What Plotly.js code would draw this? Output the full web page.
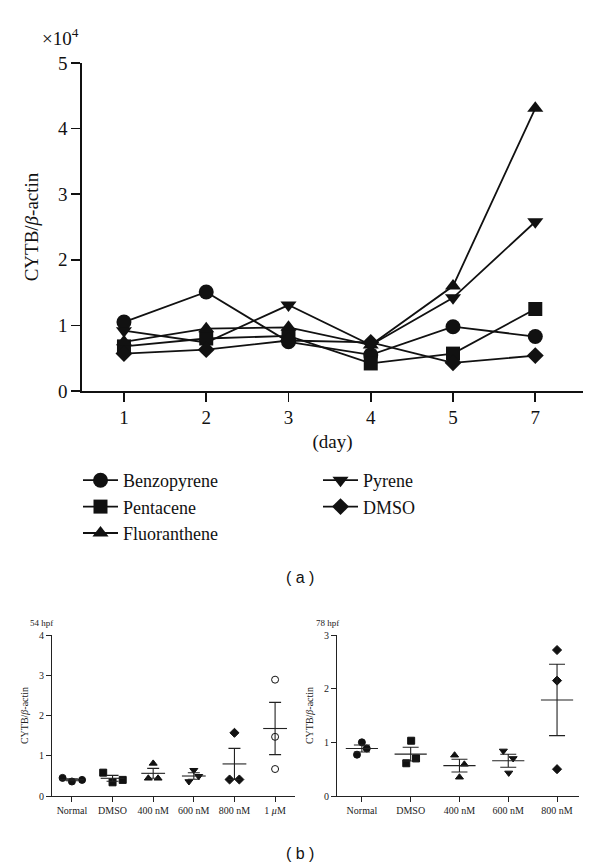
<!DOCTYPE html>
<html>
<head>
<meta charset="utf-8">
<script src="https://cdn.plot.ly/plotly-3.0.1.min.js"></script>
<style>
  body { margin: 0; background: #fff; }
  #plotDiv { width: 600px; height: 866px; }
</style>
</head>
<body>
<div id="plotDiv"></div>
<script>
// ---- panel (a): CYTB/beta-actin (x10^4) by day ----
var days = ['1', '2', '3', '4', '5', '7'];
var benzopyrene  = [1.05, 1.51, 0.75, 0.55, 0.98, 0.83];
var pentacene    = [0.68, 0.80, 0.84, 0.42, 0.57, 1.25];
var fluoranthene = [0.75, 0.95, 0.97, 0.70, 1.60, 4.31];
var pyrene       = [0.92, 0.74, 1.31, 0.70, 1.42, 2.58];
var dmso         = [0.57, 0.63, 0.77, 0.74, 0.43, 0.54];

// ---- panel (b): individual replicates ----
var groups54 = ['Normal', 'DMSO', '400 nM', '600 nM', '800 nM', '1 <i>μ</i>M'];
var vals54 = [
  [0.45, 0.36, 0.40],
  [0.58, 0.34, 0.40],
  [0.44, 0.81, 0.44],
  [0.36, 0.64, 0.49],
  [0.41, 1.57, 0.41],
  [2.89, 1.47, 0.67]
];
var groups78 = ['Normal', 'DMSO', '400 nM', '600 nM', '800 nM'];
var vals78 = [
  [0.77, 1.00, 0.885],
  [0.61, 1.03, 0.70],
  [0.76, 0.35, 0.59],
  [0.84, 0.43, 0.70],
  [2.72, 2.15, 0.50]
];

// horizontal scatter offsets of the replicate dots (layout only)
var jit54 = [[-0.23, 0, 0.25], [-0.23, 0, 0.25], [-0.12, 0, 0.12], [-0.12, 0, 0.12], [-0.12, 0, 0.12], [0, 0, 0]];
var jit78 = [[-0.1, 0, 0.1], [-0.09, 0.01, 0.11], [-0.1, 0, 0.1], [-0.1, 0.01, 0.1], [0, 0, 0]];
var symbols = ['circle', 'square', 'triangle-up', 'triangle-down', 'diamond', 'circle-open'];

var serif = 'Liberation Serif, Times New Roman, serif';
var black = '#111';

function px(x) { return x / 600; }
function py(y) { return 1 - y / 866; }

var data = [];

// top line series
var series = [
  {name: 'Benzopyrene', y: benzopyrene, sym: 'circle', size: 15, leg: 'legend'},
  {name: 'Pentacene', y: pentacene, sym: 'square', size: 14, leg: 'legend'},
  {name: 'Fluoranthene', y: fluoranthene, sym: 'triangle-up', size: 14, leg: 'legend'},
  {name: 'Pyrene', y: pyrene, sym: 'triangle-down', size: 14, leg: 'legend2'},
  {name: 'DMSO', y: dmso, sym: 'diamond', size: 13, leg: 'legend2'}
];
series.forEach(function(s) {
  data.push({
    type: 'scatter', mode: 'lines+markers',
    x: days, y: s.y, name: s.name,
    xaxis: 'x', yaxis: 'y', legend: s.leg,
    line: {color: black, width: 1.8},
    marker: {symbol: s.sym, size: s.size, color: black}
  });
});

function mean(a) { return a.reduce(function(p, c) { return p + c; }, 0) / a.length; }
function sem(a) {
  var m = mean(a);
  var v = a.reduce(function(p, c) { return p + (c - m) * (c - m); }, 0) / (a.length - 1);
  return Math.sqrt(v / a.length);
}

function addPanel(vals, jit, xa, ya, msize, meanSize, capW) {
  vals.forEach(function(g, i) {
    var sym = symbols[i];
    data.push({
      type: 'scatter', mode: 'markers', showlegend: false,
      x: g.map(function(v, j) { return i + jit[i][j]; }), y: g,
      xaxis: xa, yaxis: ya,
      marker: {symbol: sym, size: msize, color: black, line: {color: black, width: 1}}
    });
  });
  data.push({
    type: 'scatter', mode: 'markers', showlegend: false,
    x: vals.map(function(g, i) { return i; }),
    y: vals.map(mean),
    xaxis: xa, yaxis: ya,
    marker: {symbol: 'line-ew', size: meanSize, color: black, line: {color: '#222', width: 1.1}},
    error_y: {type: 'data', array: vals.map(sem), width: capW, thickness: 1.1, color: '#222'}
  });
}
addPanel(vals54, jit54, 'x2', 'y2', 7, 17, 6);
addPanel(vals78, jit78, 'x3', 'y3', 7, 23, 8);

var smallAxis = {
  showline: true, linecolor: '#222', linewidth: 1,
  ticks: 'outside', ticklen: 5, tickwidth: 1, tickcolor: '#222',
  showgrid: false, zeroline: false,
  tickfont: {family: serif, size: 10, color: '#222'}
};

var layout = {
  width: 600, height: 866,
  margin: {l: 0, r: 0, t: 0, b: 0},
  paper_bgcolor: '#fff', plot_bgcolor: '#fff',
  font: {family: serif, color: black},
  xaxis: {
    domain: [px(82), px(583)], anchor: 'y',
    type: 'category', range: [-0.51, 5.58],
    showline: true, linecolor: black, linewidth: 1.6,
    ticks: 'outside', ticklen: 9, tickwidth: 1.6, tickcolor: black,
    showgrid: false, zeroline: false,
    tickfont: {family: serif, size: 19, color: black},
    title: {text: '(day)', font: {family: serif, size: 19, color: black}, standoff: 7}
  },
  yaxis: {
    domain: [py(391), py(63)], anchor: 'x',
    range: [0, 5], dtick: 1,
    showline: true, linecolor: black, linewidth: 1.6,
    ticks: 'outside', ticklen: 9, tickwidth: 1.6, tickcolor: black,
    showgrid: false, zeroline: false,
    tickfont: {family: serif, size: 19, color: black},
    title: {text: 'CYTB/<i>β</i>-actin', font: {family: serif, size: 19, color: black}, standoff: 14}
  },
  xaxis2: Object.assign({}, smallAxis, {
    domain: [px(52), px(295)], anchor: 'y2', range: [-0.49, 5.49],
    tickvals: [0, 1, 2, 3, 4, 5], ticktext: groups54
  }),
  yaxis2: Object.assign({}, smallAxis, {
    domain: [py(796), py(635)], anchor: 'x2', range: [0, 4], dtick: 1,
    title: {text: 'CYTB/<i>β</i>-actin', font: {family: serif, size: 10, color: '#222'}, standoff: 8}
  }),
  xaxis3: Object.assign({}, smallAxis, {
    domain: [px(337), px(579)], anchor: 'y3', range: [-0.51, 4.45],
    tickvals: [0, 1, 2, 3, 4], ticktext: groups78
  }),
  yaxis3: Object.assign({}, smallAxis, {
    domain: [py(796), py(635)], anchor: 'x3', range: [0, 3], dtick: 1,
    title: {text: 'CYTB/<i>β</i>-actin', font: {family: serif, size: 10, color: '#222'}, standoff: 8}
  }),
  legend: {
    x: px(78), y: py(462), xanchor: 'left', yanchor: 'top',
    bgcolor: 'rgba(0,0,0,0)', itemwidth: 35, tracegroupgap: 0,
    font: {family: serif, size: 18, color: black}
  },
  legend2: {
    x: px(318), y: py(462), xanchor: 'left', yanchor: 'top',
    bgcolor: 'rgba(0,0,0,0)', itemwidth: 35, tracegroupgap: 0,
    font: {family: serif, size: 18, color: black}
  },
  annotations: [
    {text: '×10<sup>4</sup>', x: px(40), y: py(37), xref: 'paper', yref: 'paper',
     xanchor: 'left', yanchor: 'middle', showarrow: false,
     font: {family: serif, size: 19, color: black}},
    {text: '( a )', x: px(300), y: py(577), xref: 'paper', yref: 'paper',
     xanchor: 'center', yanchor: 'middle', showarrow: false,
     font: {family: 'Liberation Sans, Arial, sans-serif', size: 16, color: black}},
    {text: '( b )', x: px(300), y: py(853), xref: 'paper', yref: 'paper',
     xanchor: 'center', yanchor: 'middle', showarrow: false,
     font: {family: 'Liberation Sans, Arial, sans-serif', size: 16, color: black}},
    {text: '54 hpf', x: px(28), y: py(623), xref: 'paper', yref: 'paper',
     xanchor: 'left', yanchor: 'middle', showarrow: false,
     font: {family: serif, size: 9, color: '#222'}},
    {text: '78 hpf', x: px(314), y: py(623), xref: 'paper', yref: 'paper',
     xanchor: 'left', yanchor: 'middle', showarrow: false,
     font: {family: serif, size: 9, color: '#222'}}
  ]
};

Plotly.newPlot('plotDiv', data, layout, {displayModeBar: false, staticPlot: true});
</script>
</body>
</html>
